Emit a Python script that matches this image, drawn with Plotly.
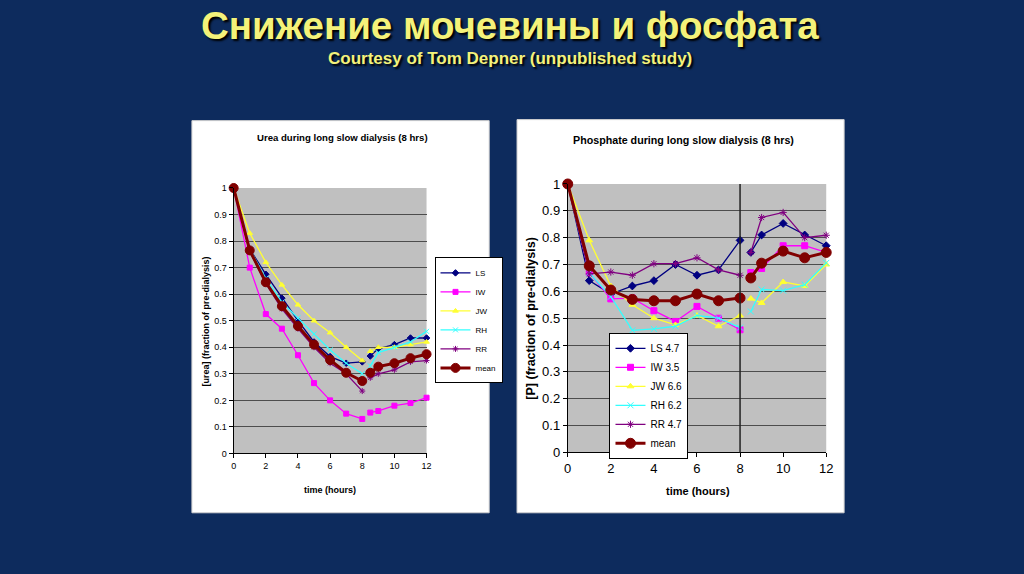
"""
Urea and phosphate during long slow dialysis
"""
import plotly.graph_objs as go

W, H = 1024, 574
# measured placement of the rendered page inside the screenshot
SX, OX = 0.995, 3.0
SY, OY = 0.9685, 9.0

# data
time_h = [0, 1, 2, 3, 4, 5, 6, 7, 8, 8.5, 9, 10, 11, 12]
x_ticks = [0, 2, 4, 6, 8, 10, 12]

urea_ls = [1, 0.77, 0.675, 0.585, 0.50, 0.42, 0.365, 0.34, 0.345, 0.367, 0.395, 0.41, 0.435, 0.435]
urea_iw = [1, 0.70, 0.525, 0.47, 0.37, 0.265, 0.20, 0.15, 0.13, 0.154, 0.16, 0.18, 0.19, 0.21]
urea_jw = [1, 0.83, 0.72, 0.635, 0.56, 0.50, 0.455, 0.40, 0.35, 0.385, 0.40, 0.40, 0.41, 0.42]
urea_rh = [1, 0.77, 0.66, 0.57, 0.51, 0.45, 0.39, 0.34, 0.30, 0.33, 0.38, 0.40, 0.42, 0.46]
urea_rr = [1, 0.76, 0.64, 0.545, 0.47, 0.40, 0.34, 0.30, 0.235, 0.285, 0.30, 0.315, 0.345, 0.35]
urea_mean = [1, 0.765, 0.645, 0.555, 0.48, 0.41, 0.352, 0.304, 0.273, 0.304, 0.327, 0.34, 0.359, 0.374]

phos_ls = [1, 0.64, 0.59, 0.62, 0.64, 0.70, 0.66, 0.68, 0.79, 0.745, 0.81, 0.853, 0.81, 0.77]
phos_iw = [1, 0.67, 0.572, 0.575, 0.528, 0.488, 0.544, 0.50, 0.457, 0.67, 0.685, 0.77, 0.77, 0.745]
phos_jw = [1, 0.79, 0.62, 0.55, 0.50, 0.475, 0.51, 0.47, 0.51, 0.573, 0.557, 0.635, 0.62, 0.70]
phos_rh = [1, 0.67, 0.58, 0.455, 0.46, 0.47, 0.51, 0.50, 0.465, 0.525, 0.607, 0.603, 0.625, 0.706]
phos_rr = [1, 0.665, 0.672, 0.66, 0.703, 0.703, 0.725, 0.68, 0.66, 0.745, 0.875, 0.894, 0.80, 0.809]
phos_mean = [1, 0.695, 0.605, 0.57, 0.565, 0.565, 0.59, 0.565, 0.575, 0.65, 0.705, 0.75, 0.725, 0.745]

urea_names = ["LS", "IW", "JW", "RH", "RR", "mean"]
phos_names = ["LS 4.7", "IW 3.5", "JW 6.6", "RH 6.2", "RR 4.7", "mean"]

colors = ["#000080", "#ff00ff", "#ffff33", "#33ffff", "#800080", "#800000"]
symbols = ["diamond", "square", "triangle-up", "x-thin-open", "asterisk-open", "circle"]

NAVY = "#0d2b5d"
GRID = "#4d4d4d"
FONT = "Liberation Sans, Arial"


def with_gap(t, v):
    """Break the line between the end of dialysis (8 h) and the rebound samples."""
    i = t.index(8) + 1
    return t[:i] + [None] + t[i:], v[:i] + [None] + v[i:]


def fx(x):
    """screen pixel x -> paper fraction"""
    return ((x - OX) / SX) / W


def fy(y):
    """screen pixel y (from top) -> paper fraction"""
    return 1 - ((y - OY) / SY) / H


fig = go.Figure()

urea_series = [urea_ls, urea_iw, urea_jw, urea_rh, urea_rr, urea_mean]
phos_series = [phos_ls, phos_iw, phos_jw, phos_rh, phos_rr, phos_mean]

for k, (name, vals) in enumerate(zip(urea_names, urea_series)):
    x, y = with_gap(time_h, vals)
    is_mean = name == "mean"
    fig.add_trace(go.Scatter(
        x=x, y=y, name=name, mode="lines+markers", xaxis="x", yaxis="y",
        legend="legend", cliponaxis=False,
        line=dict(color=colors[k], width=3 if is_mean else 1.3),
        marker=dict(symbol=symbols[k], color=colors[k], size=9 if is_mean else 5,
                    line=dict(color=colors[k], width=1)),
    ))

for k, (name, vals) in enumerate(zip(phos_names, phos_series)):
    x, y = with_gap(time_h, vals)
    is_mean = name == "mean"
    fig.add_trace(go.Scatter(
        x=x, y=y, name=name, mode="lines+markers", xaxis="x2", yaxis="y2",
        legend="legend2", cliponaxis=False,
        line=dict(color=colors[k], width=3 if is_mean else 1.3),
        marker=dict(symbol=symbols[k], color=colors[k], size=10 if is_mean else 6,
                    line=dict(color=colors[k], width=1)),
    ))

axis_common = dict(showline=True, linecolor="black", linewidth=1, ticks="outside",
                   ticklen=4, tickcolor="black", zeroline=False, fixedrange=True)

fig.update_layout(
    width=W, height=H,
    margin=dict(l=0, r=0, t=0, b=0),
    paper_bgcolor=NAVY, plot_bgcolor="#c0c0c0",
    font=dict(family=FONT, color="black"),
    xaxis=dict(domain=[fx(234), fx(428)], range=[0, 12], tickvals=x_ticks, showgrid=False,
               tickfont=dict(size=9), anchor="y", **axis_common),
    yaxis=dict(domain=[fy(453), fy(189)], range=[0, 1], dtick=0.1, showgrid=True,
               gridcolor=GRID, gridwidth=1.2, tickfont=dict(size=9), anchor="x",
               **axis_common),
    xaxis2=dict(domain=[fx(570), fx(830)], range=[0, 12], tickvals=x_ticks, showgrid=False,
                tickfont=dict(size=13), anchor="y2", **axis_common),
    yaxis2=dict(domain=[fy(452), fy(185)], range=[0, 1], dtick=0.1, showgrid=True,
                gridcolor=GRID, gridwidth=1.2, tickfont=dict(size=13), anchor="x2",
                **axis_common),
    legend=dict(x=fx(436), y=fy(258), xanchor="left", yanchor="top",
                bgcolor="white", bordercolor="black", borderwidth=1,
                font=dict(size=8, family=FONT), itemwidth=30, tracegroupgap=0),
    legend2=dict(x=fx(612), y=fy(333), xanchor="left", yanchor="top",
                 bgcolor="white", bordercolor="black", borderwidth=1,
                 font=dict(size=10, family=FONT), itemwidth=30, tracegroupgap=0),
    showlegend=True,
)

# white chart panels, then grey plot areas over them
fig.add_shape(type="rect", xref="paper", yref="paper", layer="below",
              x0=fx(192), x1=fx(491), y0=fy(512), y1=fy(122),
              fillcolor="white", line=dict(color="#d0d0d0", width=1))
fig.add_shape(type="rect", xref="paper", yref="paper", layer="below",
              x0=fx(519), x1=fx(848), y0=fy(512), y1=fy(121),
              fillcolor="white", line=dict(color="#d0d0d0", width=1))
for xr, yr in (("x domain", "y domain"), ("x2 domain", "y2 domain")):
    fig.add_shape(type="rect", xref=xr, yref=yr, layer="below",
                  x0=0, x1=1, y0=0, y1=1, fillcolor="#c0c0c0", line=dict(width=0))

# end of dialysis marker on the phosphate chart
fig.add_shape(type="line", xref="x2", yref="y2 domain", x0=8, x1=8, y0=0, y1=1,
              line=dict(color="#222222", width=1.5))

shadow = "2px 2px 2px #000000"
annotations = [
    dict(text="<b>Снижение мочевины и фосфата</b>", x=fx(512), y=fy(27),
         font=dict(size=38.5, color="#f4f27a", family=FONT, shadow=shadow)),
    dict(text="<b>Courtesy of Tom Depner (unpublished study)</b>", x=fx(512), y=fy(60),
         font=dict(size=17, color="#f4f27a", family=FONT, shadow=shadow)),
    dict(text="<b>Urea during long slow dialysis (8 hrs)</b>", x=fx(343), y=fy(139),
         font=dict(size=9.6)),
    dict(text="<b>Phosphate during long slow dialysis (8 hrs)</b>", x=fx(686), y=fy(141),
         font=dict(size=10.7)),
    dict(text="<b>time (hours)</b>", x=fx(331), y=fy(489), font=dict(size=9)),
    dict(text="<b>time (hours)</b>", x=fx(701), y=fy(490), font=dict(size=11)),
    dict(text="<b>[urea] (fraction of pre-dialysis)</b>", x=fx(206), y=fy(322),
         textangle=-90, font=dict(size=9)),
    dict(text="<b>[P] (fraction of pre-dialysis)</b>", x=fx(533), y=fy(318),
         textangle=-90, font=dict(size=12.5)),
]
for a in annotations:
    fig.add_annotation(xref="paper", yref="paper", showarrow=False,
                       xanchor="center", yanchor="middle", **a)

fig.write_html(
    "out.html",
    config={"displayModeBar": False},
    post_script="document.body.style.margin='0';"
                "document.body.style.background='%s';"
                "document.documentElement.style.background='%s';" % (NAVY, NAVY),
)
